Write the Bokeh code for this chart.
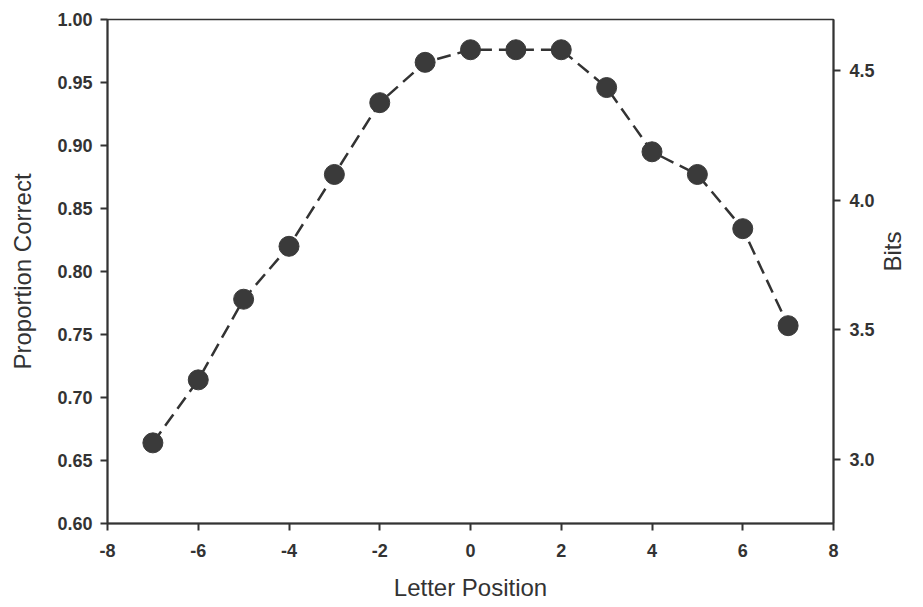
import math
from bokeh.plotting import figure
from bokeh.models import Range1d, LinearAxis, FixedTicker, NumeralTickFormatter, ColumnDataSource
from bokeh.embed import file_html
from bokeh.resources import INLINE

# Data
letter_position = [-7, -6, -5, -4, -3, -2, -1, 0, 1, 2, 3, 4, 5, 6, 7]
proportion_correct = [0.664, 0.714, 0.778, 0.820, 0.877, 0.934, 0.966, 0.976,
                      0.976, 0.976, 0.946, 0.895, 0.877, 0.834, 0.757]
x_ticks = [-8, -6, -4, -2, 0, 2, 4, 6, 8]
y_ticks = [0.60, 0.65, 0.70, 0.75, 0.80, 0.85, 0.90, 0.95, 1.00]
bits_ticks = [3.0, 3.5, 4.0, 4.5]
bits_range = (2.753, 4.697)

INK = "#333333"
FONT = "Liberation Sans"

p = figure(width=923, height=607, output_backend="svg", toolbar_location=None,
           x_range=Range1d(-8, 8), y_range=Range1d(0.60, 1.00),
           min_border_left=107, min_border_right=90, min_border_top=19,
           min_border_bottom=84)
p.background_fill_color = "white"
p.border_fill_color = "white"
p.outline_line_color = INK
p.outline_line_width = 1.5
p.grid.visible = False

p.extra_y_ranges = {"bits": Range1d(*bits_range)}
right = LinearAxis(y_range_name="bits")
p.add_layout(right, "right")

src = ColumnDataSource(dict(x=letter_position, y=proportion_correct))
p.line("x", "y", source=src, line_color=INK, line_width=2.5, line_dash="14 7")
p.scatter("x", "y", source=src, size=20, fill_color="#3a3a3a", line_color="#3a3a3a")

p.xaxis.ticker = FixedTicker(ticks=x_ticks)
p.xaxis.formatter = NumeralTickFormatter(format="0")
p.yaxis[0].ticker = FixedTicker(ticks=y_ticks)
p.yaxis[0].formatter = NumeralTickFormatter(format="0.00")
right.ticker = FixedTicker(ticks=bits_ticks)
right.formatter = NumeralTickFormatter(format="0.0")

p.xaxis.axis_label = "Letter Position"
p.yaxis[0].axis_label = "Proportion Correct"
right.axis_label = "Bits"
if hasattr(right, "axis_label_orientation"):
    right.axis_label_orientation = math.pi / 2

for ax in [p.xaxis[0], p.yaxis[0], right]:
    ax.axis_line_color = INK
    ax.axis_line_width = 2
    ax.major_tick_line_color = INK
    ax.major_tick_line_width = 2
    ax.major_tick_in = 0
    ax.major_tick_out = 7
    ax.minor_tick_line_color = None
    ax.major_label_text_font = FONT
    ax.major_label_text_font_style = "bold"
    ax.major_label_text_font_size = "18px"
    ax.major_label_text_color = INK
    ax.axis_label_text_font = FONT
    ax.axis_label_text_font_style = "normal"
    ax.axis_label_text_font_size = "24px"
    ax.axis_label_text_color = INK

p.xaxis.major_label_standoff = 13
p.xaxis.axis_label_standoff = 14
p.yaxis[0].major_label_standoff = 8
p.yaxis[0].axis_label_standoff = 18
right.major_label_standoff = 9
right.axis_label_standoff = 15

open("out.html", "w").write(file_html(p, INLINE))
